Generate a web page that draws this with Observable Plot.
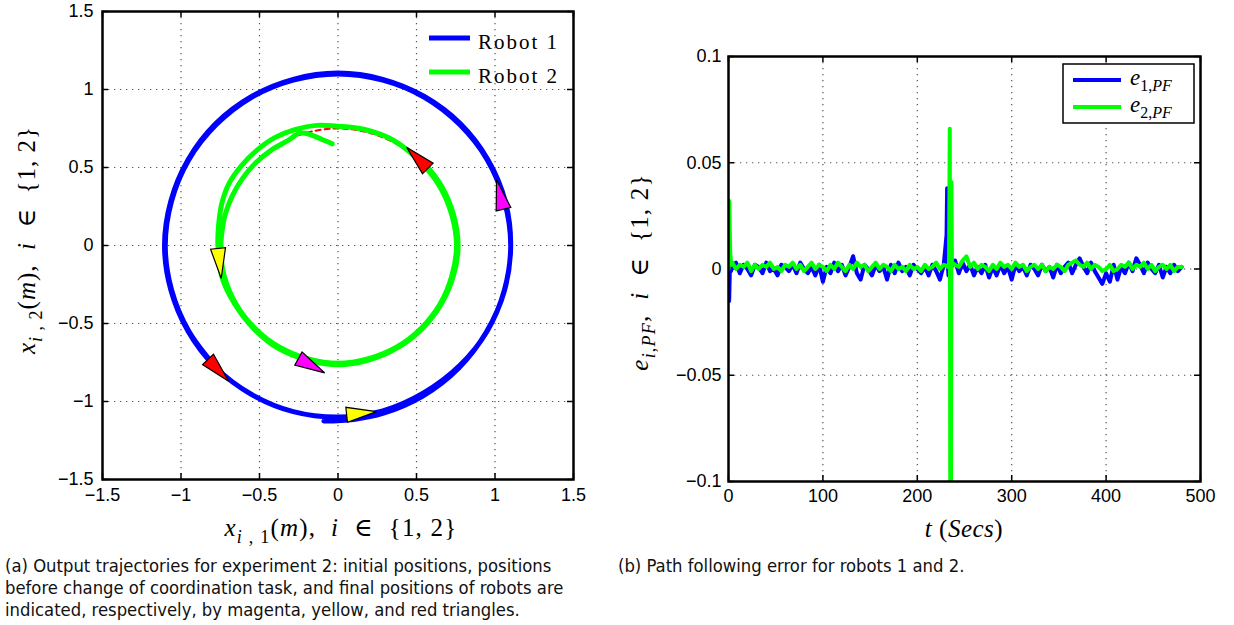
<!DOCTYPE html>
<html>
<head>
<meta charset="utf-8">
<script src="https://cdn.jsdelivr.net/npm/d3@7"></script>
<script src="https://cdn.jsdelivr.net/npm/@observablehq/plot@0.6"></script>
<style>
  html, body { margin: 0; padding: 0; background: #fff; }
  #wrap { position: relative; width: 1234px; height: 625px; overflow: hidden; background: #fff; }
  #pa { position: absolute; left: 0; top: 0; }
  #pb { position: absolute; left: 620px; top: 0; }
  .cap { position: absolute; top: 555px; font-family: "DejaVu Sans Condensed", "Liberation Sans Narrow", sans-serif; font-size: 18.3px; line-height: 22px; color: #111; white-space: nowrap; }
</style>
</head>
<body>
<div id="wrap">
  <div id="pa"></div>
  <div id="pb"></div>
  <div class="cap" style="left:5px">(a) Output trajectories for experiment 2: initial positions, positions<br>before change of coordination task, and final positions of robots are<br>indicated, respectively, by magenta, yellow, and red triangles.</div>
  <div class="cap" style="left:618px">(b) Path following error for robots 1 and 2.</div>
</div>
<script>
// ---------------- Panel (a): trajectories ----------------
const trajTicks = [-1.5, -1, -0.5, 0, 0.5, 1, 1.5];

const robot1X = [-0.09, 0.10, 0.29, 0.54, 0.77, 0.945, 1.06, 1.10, 1.065, 0.955, 0.78, 0.55, 0.285, 0.0, -0.285, -0.55, -0.78, -0.955, -1.065, -1.105, -1.065, -0.955, -0.78, -0.55, -0.285, 0.0, 0.285, 0.545, 0.775, 0.95, 1.06, 1.10, 1.06, 0.95, 0.775, 0.55, 0.285, 0.0, -0.285, -0.55, -0.775, -0.95, -1.06, -1.10, -1.06, -0.95, -0.77];
const robot1Y = [-1.125, -1.115, -1.075, -0.965, -0.785, -0.555, -0.29, 0.0, 0.285, 0.55, 0.78, 0.955, 1.065, 1.105, 1.065, 0.955, 0.78, 0.55, 0.285, 0.0, -0.285, -0.55, -0.78, -0.955, -1.065, -1.10, -1.06, -0.945, -0.77, -0.55, -0.285, 0.0, 0.285, 0.55, 0.775, 0.95, 1.06, 1.10, 1.06, 0.95, 0.775, 0.55, 0.285, 0.0, -0.285, -0.55, -0.79];

const robot2X = [-0.037, -0.09, -0.16, -0.24, -0.315, -0.427, -0.527, -0.61, -0.675, -0.72, -0.742, -0.745, -0.725, -0.65, -0.53, -0.375, -0.195, 0.0, 0.195, 0.375, 0.53, 0.65, 0.725, 0.755, 0.725, 0.65, 0.53, 0.355, 0.164, 0.0, -0.136, -0.27, -0.40, -0.514, -0.613, -0.693, -0.74, -0.76, -0.765, -0.74, -0.655, -0.535, -0.38, -0.195, 0.0, 0.195, 0.38, 0.535, 0.655, 0.735, 0.765, 0.735, 0.66, 0.55];
const robot2Y = [0.652, 0.675, 0.705, 0.722, 0.675, 0.61, 0.527, 0.427, 0.315, 0.193, 0.065, -0.065, -0.195, -0.375, -0.53, -0.65, -0.725, -0.755, -0.725, -0.65, -0.53, -0.375, -0.195, 0.0, 0.195, 0.375, 0.53, 0.673, 0.745, 0.765, 0.77, 0.745, 0.693, 0.613, 0.514, 0.40, 0.27, 0.134, 0.0, -0.2, -0.38, -0.535, -0.66, -0.735, -0.765, -0.735, -0.655, -0.535, -0.38, -0.195, 0.0, 0.2, 0.38, 0.53];

const refOuterX = [1.10, 1.063, 0.953, 0.778, 0.55, 0.285, 0, -0.285, -0.55, -0.778, -0.953, -1.063, -1.10, -1.063, -0.953, -0.778, -0.55, -0.285, 0, 0.285, 0.55, 0.778, 0.953, 1.063];
const refOuterY = [0, 0.285, 0.55, 0.778, 0.953, 1.063, 1.10, 1.063, 0.953, 0.778, 0.55, 0.285, 0, -0.285, -0.55, -0.778, -0.953, -1.063, -1.10, -1.063, -0.953, -0.778, -0.55, -0.285];
const refInnerX = [0.75, 0.724, 0.65, 0.53, 0.375, 0.194, 0, -0.194, -0.375, -0.53, -0.65, -0.724, -0.75, -0.724, -0.65, -0.53, -0.375, -0.194, 0, 0.194, 0.375, 0.53, 0.65, 0.724];
const refInnerY = [0, 0.194, 0.375, 0.53, 0.65, 0.724, 0.75, 0.724, 0.65, 0.53, 0.375, 0.194, 0, -0.194, -0.375, -0.53, -0.65, -0.724, -0.75, -0.724, -0.65, -0.53, -0.375, -0.194];

// triangle markers: base-centre position, heading (deg clockwise from up), colour
const triX = [1.054, 0.055, -0.828, -0.252, -0.764, 0.572];
const triY = [0.233, -1.085, -0.73, -0.724, -0.019, 0.494];
const triHeading = [-13.4, 84, 136.6, 118.9, 174, -45];
const triColor = ["#ff00ff", "#ffff00", "#ff0000", "#ff00ff", "#ffff00", "#ff0000"];

// ---------------- Panel (b): path following error ----------------
const timeTicks = [0, 100, 200, 300, 400, 500];
const errTicks = [-0.1, -0.05, 0, 0.05, 0.1];
const errTime = d3.range(4, 481, 4);
const e1 = [
  0.001, 0.003, -0.002, 0.002, 0.000, -0.003, 0.002, 0.001, -0.002, 0.003,
  -0.001, 0.000, -0.003, 0.002, 0.001, -0.001, 0.002, -0.002, 0.003, 0.000,
  -0.002, 0.001, -0.003, 0.002, -0.006, 0.001, -0.002, 0.003, -0.001, 0.002,
  -0.003, 0.001, 0.006, -0.002, -0.005, 0.002, 0.000, -0.003, 0.002, -0.001,
  0.001, -0.005, 0.002, -0.002, 0.003, -0.001, 0.001, -0.003, 0.002, 0.000,
  -0.002, 0.001, -0.003, 0.002, -0.001, -0.005, 0.002, 0.001, 0.001, 0.004,
  -0.002, 0.003, -0.001, 0.002, -0.003, 0.001, -0.002, 0.002, -0.004, 0.001,
  -0.003, 0.002, -0.002, 0.001, -0.005, 0.002, -0.001, 0.001, -0.003, 0.002,
  0.000, -0.003, 0.002, -0.001, 0.001, -0.004, 0.002, -0.002, 0.001, 0.003,
  -0.002, 0.002, 0.005, 0.001, -0.002, 0.003, -0.001, -0.004, -0.007, -0.002,
  -0.006, 0.002, -0.005, 0.001, -0.002, 0.003, -0.001, 0.005, 0.002, -0.002,
  0.003, 0.000, -0.002, 0.002, -0.004, 0.001, -0.002, 0.002, -0.001, 0.001
];
const e2 = [
  0.003, 0.000, 0.002, 0.001, 0.003, -0.001, 0.002, 0.000, 0.002, 0.001,
  0.003, 0.000, 0.001, -0.001, 0.002, 0.001, 0.003, 0.000, 0.002, -0.001,
  0.001, 0.003, 0.000, 0.002, 0.001, -0.001, 0.002, 0.000, 0.003, 0.001,
  -0.001, 0.002, 0.000, 0.003, 0.001, 0.002, -0.001, 0.001, 0.003, 0.000,
  0.002, 0.001, -0.001, 0.002, 0.000, 0.001, -0.001, 0.002, 0.000, 0.001,
  -0.001, 0.002, 0.000, 0.001, 0.003, 0.000, 0.002, 0.001, 0.002, 0.002,
  0.001, 0.004, 0.006, 0.001, 0.003, 0.000, 0.002, 0.001, -0.001, 0.002,
  0.000, 0.003, 0.001, 0.002, 0.000, 0.003, 0.001, 0.002, -0.001, 0.001,
  0.002, 0.000, 0.002, -0.001, 0.001, 0.000, 0.002, 0.001, -0.001, 0.002,
  0.003, 0.004, 0.002, 0.001, 0.003, 0.000, 0.002, 0.001, -0.001, 0.000,
  0.002, -0.001, 0.000, 0.002, 0.001, 0.003, 0.000, 0.002, 0.001, 0.003,
  0.000, 0.002, -0.001, 0.001, 0.002, 0.000, 0.002, -0.001, 0.001, 0.001
];
const e1SpikeT = [0, 0.7, 1.6, 2.6, 231, 231.6, 232.3, 233];
const e1SpikeV = [0.0, -0.015, 0.003, -0.001, 0.016, 0.038, 0.003, -0.003];
const e2SpikeT = [0, 0.8, 1.8, 2.8, 233.6, 234.4, 235.0, 235.6, 236.1, 236.7];
const e2SpikeV = [0.0, 0.032, 0.008, 0.002, 0.003, 0.066, -0.13, -0.13, 0.041, 0.003];

// ---------------- helpers ----------------
const fmt = d => (d < 0 ? "\u2212" : "") + Math.abs(d);
const zip = (xs, ys) => xs.map((x, i) => ({x, y: ys[i]}));
function errSeries(base, spT, spV) {
  const pts = errTime.map((t, i) => ({t, e: base[i]}));
  spT.forEach((t, i) => pts.push({t, e: spV[i]}));
  return pts.sort((a, b) => a.t - b.t);
}
const triSymbol = {
  draw(ctx) { ctx.moveTo(0, -30); ctx.lineTo(7.5, 0); ctx.lineTo(-7.5, 0); ctx.closePath(); }
};
const tickFont = {fontFamily: "'Liberation Sans', Arial, Helvetica, sans-serif", fontSize: "18px", background: "white", overflow: "visible", color: "black"};
const gridStyle = {stroke: "#555", strokeWidth: 1.2, strokeDasharray: "1.3,4.7"};
const serif = "'Liberation Serif', 'DejaVu Serif', serif";

function addLabel(svg, {x, y, rotate = 0, anchor = "middle", size = 22, spacing = 0, parts}) {
  const t = svg.append("text")
    .attr("transform", `translate(${x},${y}) rotate(${rotate})`)
    .attr("text-anchor", anchor)
    .attr("font-family", serif)
    .attr("font-size", size)
    .attr("letter-spacing", spacing)
    .attr("fill", "black")
    .style("white-space", "pre");
  let shift = 0;
  for (const p of parts) {
    const sp = t.append("tspan").text(p.t);
    if (p.i) sp.attr("font-style", "italic");
    const target = p.sub ? Math.round(size * 0.28) : 0;
    if (target !== shift) { sp.attr("dy", target - shift); shift = target; }
    if (p.sub) sp.attr("font-size", Math.round(size * 0.7));
  }
  return t;
}

// ---------------- Plot (a) ----------------
const W = 600, H = 545;
const A = {l: 102, r: 27, t: 11, b: 66};
const fwA = W - A.l - A.r, fhA = H - A.t - A.b;
const plotA = Plot.plot({
  width: W, height: H,
  marginLeft: A.l, marginRight: A.r, marginTop: A.t, marginBottom: A.b,
  style: tickFont,
  x: {domain: [-1.5, 1.5], ticks: trajTicks, tickFormat: fmt, tickSize: 0, tickPadding: 9, label: null},
  y: {domain: [-1.5, 1.5], ticks: trajTicks, tickFormat: fmt, tickSize: 0, tickPadding: 9, label: null},
  marks: [
    Plot.ruleX(trajTicks.slice(1, -1), gridStyle),
    Plot.ruleY(trajTicks.slice(1, -1), gridStyle),
    Plot.tickX(trajTicks, {x: d => d, insetTop: fhA - 6, stroke: "black", strokeWidth: 1.5}),
    Plot.tickX(trajTicks, {x: d => d, insetBottom: fhA - 6, stroke: "black", strokeWidth: 1.5}),
    Plot.tickY(trajTicks, {y: d => d, insetRight: fwA - 6, stroke: "black", strokeWidth: 1.5}),
    Plot.tickY(trajTicks, {y: d => d, insetLeft: fwA - 6, stroke: "black", strokeWidth: 1.5}),
    Plot.line(zip(refOuterX, refOuterY), {x: "x", y: "y", stroke: "#ff0000", strokeWidth: 2, strokeDasharray: "5,4", curve: "catmull-rom-closed"}),
    Plot.line(zip(refInnerX, refInnerY), {x: "x", y: "y", stroke: "#ff0000", strokeWidth: 2, strokeDasharray: "5,4", curve: "catmull-rom-closed"}),
    Plot.line(zip(robot1X, robot1Y), {x: "x", y: "y", stroke: "#0000ff", strokeWidth: 5, curve: "catmull-rom", strokeLinejoin: "round", strokeLinecap: "round"}),
    Plot.line(zip(robot2X, robot2Y), {x: "x", y: "y", stroke: "#00ff00", strokeWidth: 5, curve: "catmull-rom", strokeLinejoin: "round", strokeLinecap: "round"}),
    Plot.dot(triX.map((x, i) => ({x, y: triY[i], a: triHeading[i], c: triColor[i]})),
      {x: "x", y: "y", rotate: "a", fill: "c", stroke: "black", strokeWidth: 1.2, symbol: triSymbol, r: 8}),
    Plot.frame({stroke: "black", strokeWidth: 2.5})
  ]
});
document.getElementById("pa").append(plotA);
{
  const svg = d3.select(plotA);
  const lg = svg.append("g");
  lg.append("line").attr("x1", 429).attr("x2", 470).attr("y1", 38).attr("y2", 38).attr("stroke", "#0000ff").attr("stroke-width", 5);
  lg.append("line").attr("x1", 429).attr("x2", 470).attr("y1", 72).attr("y2", 72).attr("stroke", "#00ff00").attr("stroke-width", 5);
  lg.append("text").attr("x", 478).attr("y", 49).attr("text-anchor", "start").attr("font-family", serif).attr("font-size", 21).attr("letter-spacing", 2).text("Robot 1");
  lg.append("text").attr("x", 478).attr("y", 83).attr("text-anchor", "start").attr("font-family", serif).attr("font-size", 21).attr("letter-spacing", 2).text("Robot 2");
  addLabel(svg, {x: 341, y: 536, size: 25, spacing: 1.2, parts: [
    {t: "x", i: 1}, {t: "i", i: 1, sub: 1}, {t: " , 1", sub: 1}, {t: "("}, {t: "m", i: 1}, {t: "),  "}, {t: "i", i: 1}, {t: "  \u2208  {1, 2}"}]});
  addLabel(svg, {x: 35, y: 240, rotate: -90, size: 25, spacing: 1.0, parts: [
    {t: "x", i: 1}, {t: "i", i: 1, sub: 1}, {t: " , 2", sub: 1}, {t: "("}, {t: "m", i: 1}, {t: "),  "}, {t: "i", i: 1}, {t: "  \u2208  {1, 2}"}]});
}

// ---------------- Plot (b) ----------------
const WB = 614;
const B = {l: 108, r: 34, t: 56, b: 64};
const fwB = WB - B.l - B.r, fhB = H - B.t - B.b;
const plotB = Plot.plot({
  width: WB, height: H,
  marginLeft: B.l, marginRight: B.r, marginTop: B.t, marginBottom: B.b,
  style: tickFont,
  x: {domain: [0, 500], ticks: timeTicks, tickFormat: fmt, tickSize: 0, tickPadding: 8, label: null},
  y: {domain: [-0.1, 0.1], ticks: errTicks, tickFormat: fmt, tickSize: 0, tickPadding: 7, label: null},
  marks: [
    Plot.ruleX(timeTicks.slice(1, -1), gridStyle),
    Plot.ruleY(errTicks.slice(1, -1), gridStyle),
    Plot.tickX(timeTicks, {x: d => d, insetTop: fhB - 6, stroke: "black", strokeWidth: 1.5}),
    Plot.tickX(timeTicks, {x: d => d, insetBottom: fhB - 6, stroke: "black", strokeWidth: 1.5}),
    Plot.tickY(errTicks, {y: d => d, insetRight: fwB - 6, stroke: "black", strokeWidth: 1.5}),
    Plot.tickY(errTicks, {y: d => d, insetLeft: fwB - 6, stroke: "black", strokeWidth: 1.5}),
    Plot.line(errSeries(e1, e1SpikeT, e1SpikeV), {x: "t", y: "e", stroke: "#0000ff", strokeWidth: 4, clip: true, strokeLinejoin: "round"}),
    Plot.line(errSeries(e2, e2SpikeT, e2SpikeV), {x: "t", y: "e", stroke: "#00ff00", strokeWidth: 4, clip: true, strokeLinejoin: "round"}),
    Plot.frame({stroke: "black", strokeWidth: 2.5})
  ]
});
document.getElementById("pb").append(plotB);
{
  const svg = d3.select(plotB);
  const lg = svg.append("g");
  lg.append("rect").attr("x", 443).attr("y", 64).attr("width", 131).attr("height", 59).attr("fill", "white").attr("stroke", "black").attr("stroke-width", 1.5);
  lg.append("line").attr("x1", 453).attr("x2", 501).attr("y1", 80).attr("y2", 80).attr("stroke", "#0000ff").attr("stroke-width", 4);
  lg.append("line").attr("x1", 453).attr("x2", 501).attr("y1", 107).attr("y2", 107).attr("stroke", "#00ff00").attr("stroke-width", 4);
  addLabel(svg, {x: 510, y: 85, anchor: "start", size: 23, parts: [{t: "e", i: 1}, {t: "1,", sub: 1}, {t: "PF", i: 1, sub: 1}]});
  addLabel(svg, {x: 510, y: 112, anchor: "start", size: 23, parts: [{t: "e", i: 1}, {t: "2,", sub: 1}, {t: "PF", i: 1, sub: 1}]});
  addLabel(svg, {x: 344, y: 537, size: 25, spacing: 0.5, parts: [{t: "t", i: 1}, {t: " ("}, {t: "Secs", i: 1}, {t: ")"}]});
  addLabel(svg, {x: 28, y: 272, rotate: -90, size: 25, spacing: 1.2, parts: [
    {t: "e", i: 1}, {t: "i", i: 1, sub: 1}, {t: ",", sub: 1}, {t: "PF", i: 1, sub: 1}, {t: ",  "}, {t: "i", i: 1}, {t: "  \u2208  {1, 2}"}]});
}
</script>
</body>
</html>
